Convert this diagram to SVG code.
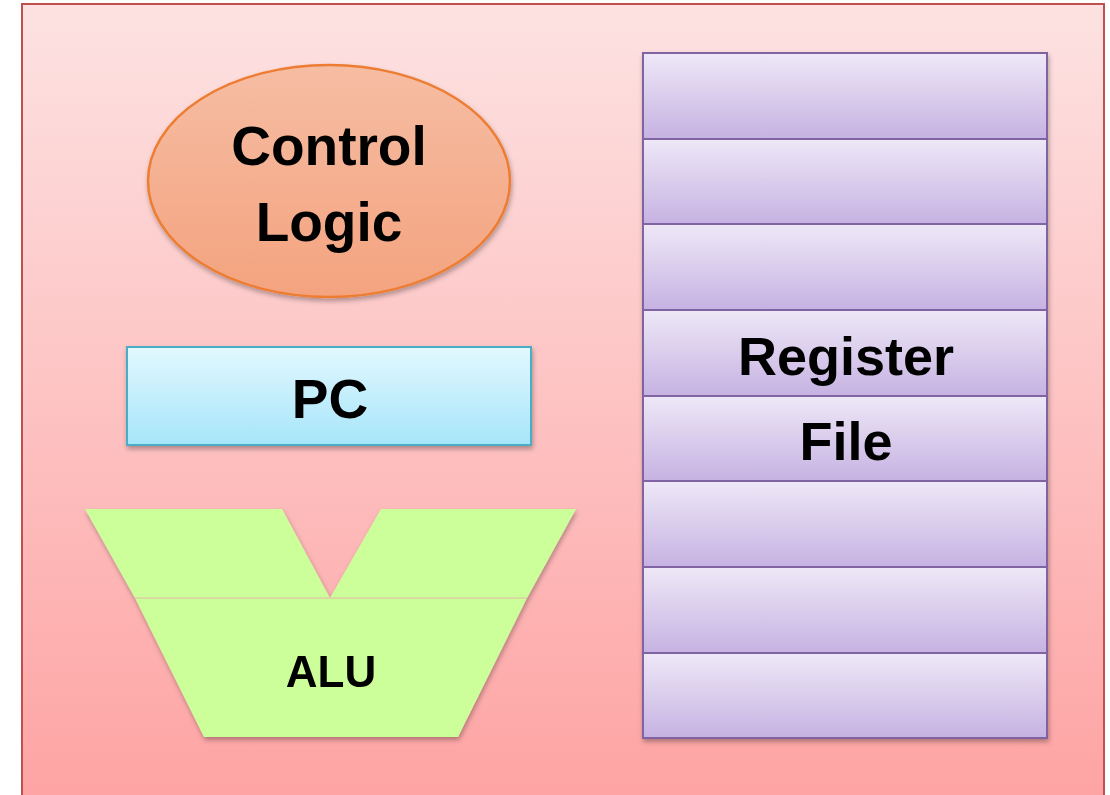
<svg xmlns="http://www.w3.org/2000/svg" width="1110" height="795" viewBox="0 0 1110 795">
<defs>
<linearGradient id="bg" x1="0" y1="0" x2="0" y2="1"><stop offset="0" stop-color="#fde2e2"/><stop offset="1" stop-color="#fea3a3"/></linearGradient>
<linearGradient id="cl" x1="0" y1="0" x2="0" y2="1"><stop offset="0" stop-color="#f6bda3"/><stop offset="1" stop-color="#f4a37f"/></linearGradient>
<linearGradient id="pc" x1="0" y1="0" x2="0" y2="1"><stop offset="0" stop-color="#e2f8fe"/><stop offset="1" stop-color="#a6e5fa"/></linearGradient>
<linearGradient id="rg" x1="0" y1="0" x2="0" y2="1"><stop offset="0" stop-color="#eee8f7"/><stop offset="1" stop-color="#c6b2e2"/></linearGradient>
<filter id="sh" x="-10%" y="-10%" width="120%" height="130%"><feDropShadow dx="1" dy="3" stdDeviation="2.5" flood-color="#000" flood-opacity="0.3"/></filter>
</defs>
<style>
.t{font-family:"Liberation Sans",Arial,sans-serif;font-weight:bold;fill:#000;text-anchor:middle}
.reg{fill:url(#rg);stroke:#8064a2;stroke-width:2}
</style>
<rect x="22" y="4" width="1082" height="800" fill="url(#bg)" stroke="#c0504d" stroke-width="2"/>
<g id="control-logic">
<ellipse cx="329" cy="181" rx="181" ry="116" fill="url(#cl)" stroke="#ed7d31" stroke-width="2.5" filter="url(#sh)"/>
<text class="t" x="329" y="165" font-size="55">Control</text>
<text class="t" x="329" y="241" font-size="55">Logic</text>
</g>
<g id="pc">
<rect x="127" y="347" width="404" height="98" fill="url(#pc)" stroke="#4bacc6" stroke-width="2" filter="url(#sh)"/>
<text class="t" x="330" y="418" font-size="55">PC</text>
</g>
<g id="alu" filter="url(#sh)">
<polygon points="85,509 282,509 330,598 135,598" fill="#ccff99"/>
<polygon points="381,509 576,509 527,598 330,598" fill="#ccff99"/>
<polygon points="135,598 527,598 458,737 204,737" fill="#ccff99"/>
<line x1="135" y1="598" x2="527" y2="598" stroke="#e3b8a8" stroke-width="1"/>
<text class="t" x="331" y="687" font-size="44">ALU</text>
</g>
<g id="register-file">
<g filter="url(#sh)">
<rect class="reg" x="643" y="53" width="404" height="86"/>
<rect class="reg" x="643" y="139" width="404" height="85"/>
<rect class="reg" x="643" y="224" width="404" height="86"/>
<rect class="reg" x="643" y="310" width="404" height="86"/>
<rect class="reg" x="643" y="396" width="404" height="85"/>
<rect class="reg" x="643" y="481" width="404" height="86"/>
<rect class="reg" x="643" y="567" width="404" height="86"/>
<rect class="reg" x="643" y="653" width="404" height="85"/>
</g>
<text class="t" x="846" y="375" font-size="54">Register</text>
<text class="t" x="846" y="460" font-size="54">File</text>
</g>
<g id="connectors"/>
</svg>
